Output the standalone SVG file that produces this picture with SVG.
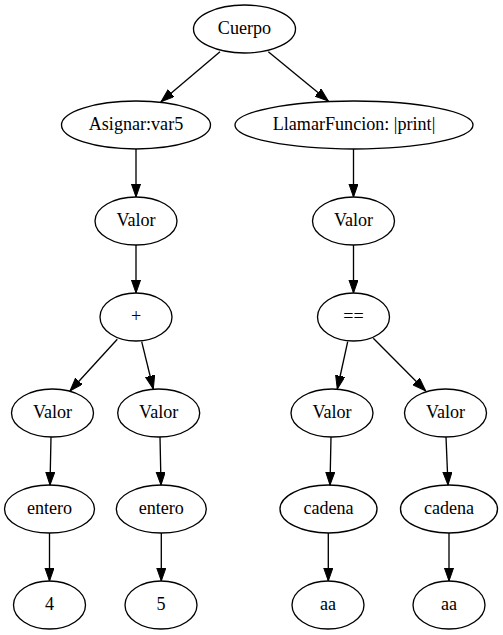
<svg xmlns="http://www.w3.org/2000/svg" width="503" height="635" viewBox="0 0 503 635">
<defs>
<marker id="arr" markerUnits="userSpaceOnUse" markerWidth="14" markerHeight="10" refX="13.33" refY="4.67" orient="auto">
<path d="M0,0 L13.33,4.67 L0,9.33 z" fill="#000" stroke="#000" stroke-width="1"/>
</marker>
<style>
ellipse{fill:none;stroke:#000;stroke-width:1.33}
text{font-size:18.1px;text-anchor:middle;fill:#000}
#edges path{fill:none;stroke:#000;stroke-width:1.33;marker-end:url(#arr)}
</style>
</defs>
<rect width="503" height="635" fill="#fff"/>
<g id="edges">
<path d="M220,51.7 L161,101.7"/>
<path d="M268.3,51.7 L328.3,101"/>
<path d="M136,149 L136,197"/>
<path d="M353.5,149 L353.5,197"/>
<path d="M136,245 L136,293"/>
<path d="M353.5,245 L353.5,293"/>
<path d="M117.3,339.3 L70,391"/>
<path d="M141.7,341.7 L153.3,389"/>
<path d="M347.7,341.7 L337.3,389"/>
<path d="M373.3,338.3 L425.7,391"/>
<path d="M51,437 L50,485"/>
<path d="M160,437 L161,485"/>
<path d="M331,437 L330,485"/>
<path d="M446,437 L448,485"/>
<path d="M49.5,533 L49.5,581"/>
<path d="M161.3,533 L161.3,581"/>
<path d="M328.3,533 L328.3,581"/>
<path d="M449,533 L449,581"/>
</g>
<g font-family="'Liberation Serif', 'Times New Roman', serif">
<g id="n_cuerpo"><ellipse cx="244.5" cy="29" rx="51" ry="24"/><text x="244.5" y="34.3">Cuerpo</text></g>
<g id="n_asignar"><ellipse cx="136" cy="125" rx="74.5" ry="24"/><text x="136" y="130.3">Asignar:var5</text></g>
<g id="n_llamar"><ellipse cx="354" cy="125" rx="119" ry="24"/><text x="354" y="130.3">LlamarFuncion: |print|</text></g>
<g id="n_valor1"><ellipse cx="136" cy="221" rx="41" ry="24"/><text x="136" y="226.3">Valor</text></g>
<g id="n_valor2"><ellipse cx="353.5" cy="221" rx="41" ry="24"/><text x="353.5" y="226.3">Valor</text></g>
<g id="n_plus"><ellipse cx="136" cy="317" rx="36" ry="24"/><text x="136" y="322.3">+</text></g>
<g id="n_eq"><ellipse cx="353.5" cy="317" rx="36" ry="24"/><text x="353.5" y="322.3">==</text></g>
<g id="n_valor3"><ellipse cx="52.5" cy="413" rx="41" ry="24"/><text x="52.5" y="418.3">Valor</text></g>
<g id="n_valor4"><ellipse cx="158.7" cy="413" rx="41" ry="24"/><text x="158.7" y="418.3">Valor</text></g>
<g id="n_valor5"><ellipse cx="332" cy="413" rx="41" ry="24"/><text x="332" y="418.3">Valor</text></g>
<g id="n_valor6"><ellipse cx="445.5" cy="413" rx="41" ry="24"/><text x="445.5" y="418.3">Valor</text></g>
<g id="n_entero1"><ellipse cx="49.5" cy="509" rx="45" ry="24"/><text x="49.5" y="514.3">entero</text></g>
<g id="n_entero2"><ellipse cx="161.3" cy="509" rx="45" ry="24"/><text x="161.3" y="514.3">entero</text></g>
<g id="n_cadena1"><ellipse cx="328.5" cy="509" rx="48.5" ry="24"/><text x="328.5" y="514.3">cadena</text></g>
<g id="n_cadena2"><ellipse cx="449" cy="509" rx="48.5" ry="24"/><text x="449" y="514.3">cadena</text></g>
<g id="n_4"><ellipse cx="49.5" cy="605" rx="36" ry="24"/><text x="49.5" y="610.3">4</text></g>
<g id="n_5"><ellipse cx="161" cy="605" rx="36" ry="24"/><text x="161" y="610.3">5</text></g>
<g id="n_aa1"><ellipse cx="328" cy="605" rx="36" ry="24"/><text x="328" y="610.3">aa</text></g>
<g id="n_aa2"><ellipse cx="449" cy="605" rx="36" ry="24"/><text x="449" y="610.3">aa</text></g>
</g>
</svg>
